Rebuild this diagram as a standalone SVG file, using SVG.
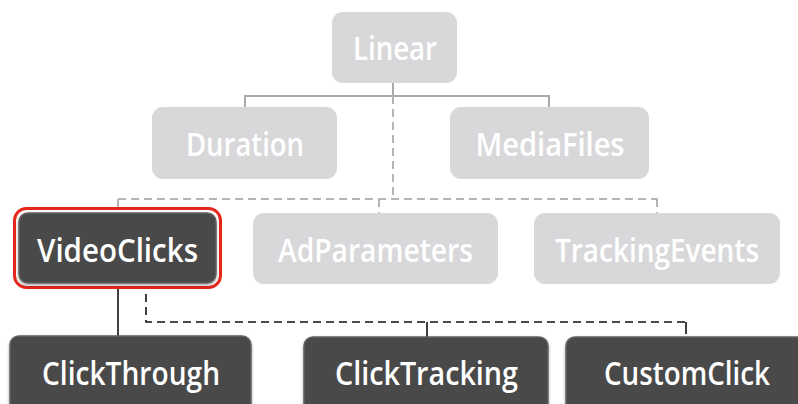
<svg xmlns="http://www.w3.org/2000/svg" width="798" height="404" viewBox="0 0 798 404">
<defs>
<style>
.lt rect{fill:#d8d8db}
.lt text{fill:#ffffff}
.dk rect{fill:#4a4949;stroke:#626161;stroke-width:1.5}
.dk text{fill:#ffffff}
text{font-family:"Open Sans","Liberation Sans",sans-serif;font-weight:600;font-size:33px;text-anchor:middle}
.sg{stroke:#ababab;stroke-width:2;fill:none}
.dg{stroke:#b5b5b5;stroke-width:2;fill:none;stroke-dasharray:8 5}
.sb{stroke:#111;stroke-width:1.6;fill:none}
.db{stroke:#111;stroke-width:1.6;fill:none;stroke-dasharray:8 5}
</style>
<filter id="sh" x="-10%" y="-10%" width="120%" height="130%">
<feDropShadow dx="0" dy="1.5" stdDeviation="1.5" flood-color="#000" flood-opacity="0.35"/>
</filter>
</defs>
<g id="connectors">
<path class="sg" d="M393 83V96M245 107V96H549V107"/>
<path class="dg" d="M393 96V199"/>
<path class="dg" d="M118 199H658"/>
<path class="dg" d="M118 199V208M379 199V213M657 199V213"/>
<path class="sb" d="M118 289V337"/>
<path class="db" d="M146 294V322H686"/>
<path class="sb" d="M686 322V334M427 322V337"/>
</g>
<g id="linear" class="lt"><rect x="332" y="12" width="125" height="71" rx="11"/><text x="395" y="60" textLength="84" lengthAdjust="spacingAndGlyphs">Linear</text></g>
<g id="duration" class="lt"><rect x="152" y="107" width="185" height="72" rx="11"/><text x="245" y="156" textLength="118" lengthAdjust="spacingAndGlyphs">Duration</text></g>
<g id="mediafiles" class="lt"><rect x="450" y="107" width="199" height="72" rx="11"/><text x="550" y="156" textLength="149" lengthAdjust="spacingAndGlyphs">MediaFiles</text></g>
<g id="videoclicks" class="dk">
<rect x="14.5" y="208.5" width="206" height="79" rx="12" style="fill:none;stroke:#e4261b;stroke-width:3"/>
<rect x="19" y="213" width="197" height="70" rx="9" filter="url(#sh)"/>
<text x="117.5" y="262" textLength="161" lengthAdjust="spacingAndGlyphs">VideoClicks</text></g>
<g id="adparameters" class="lt"><rect x="253" y="213" width="245" height="71" rx="11"/><text x="375.5" y="262" textLength="195" lengthAdjust="spacingAndGlyphs">AdParameters</text></g>
<g id="trackingevents" class="lt"><rect x="534" y="213" width="246" height="71" rx="11"/><text x="657" y="262" textLength="204" lengthAdjust="spacingAndGlyphs">TrackingEvents</text></g>
<g id="clickthrough" class="dk"><rect x="10" y="336" width="241" height="80" rx="9" filter="url(#sh)"/><text x="131" y="385" textLength="178" lengthAdjust="spacingAndGlyphs">ClickThrough</text></g>
<g id="clicktracking" class="dk"><rect x="304" y="337" width="244" height="80" rx="9" filter="url(#sh)"/><text x="426.5" y="385" textLength="183" lengthAdjust="spacingAndGlyphs">ClickTracking</text></g>
<g id="customclick" class="dk"><rect x="566" y="337" width="245" height="80" rx="9" filter="url(#sh)"/><text x="687" y="385" textLength="166" lengthAdjust="spacingAndGlyphs">CustomClick</text></g>
</svg>
